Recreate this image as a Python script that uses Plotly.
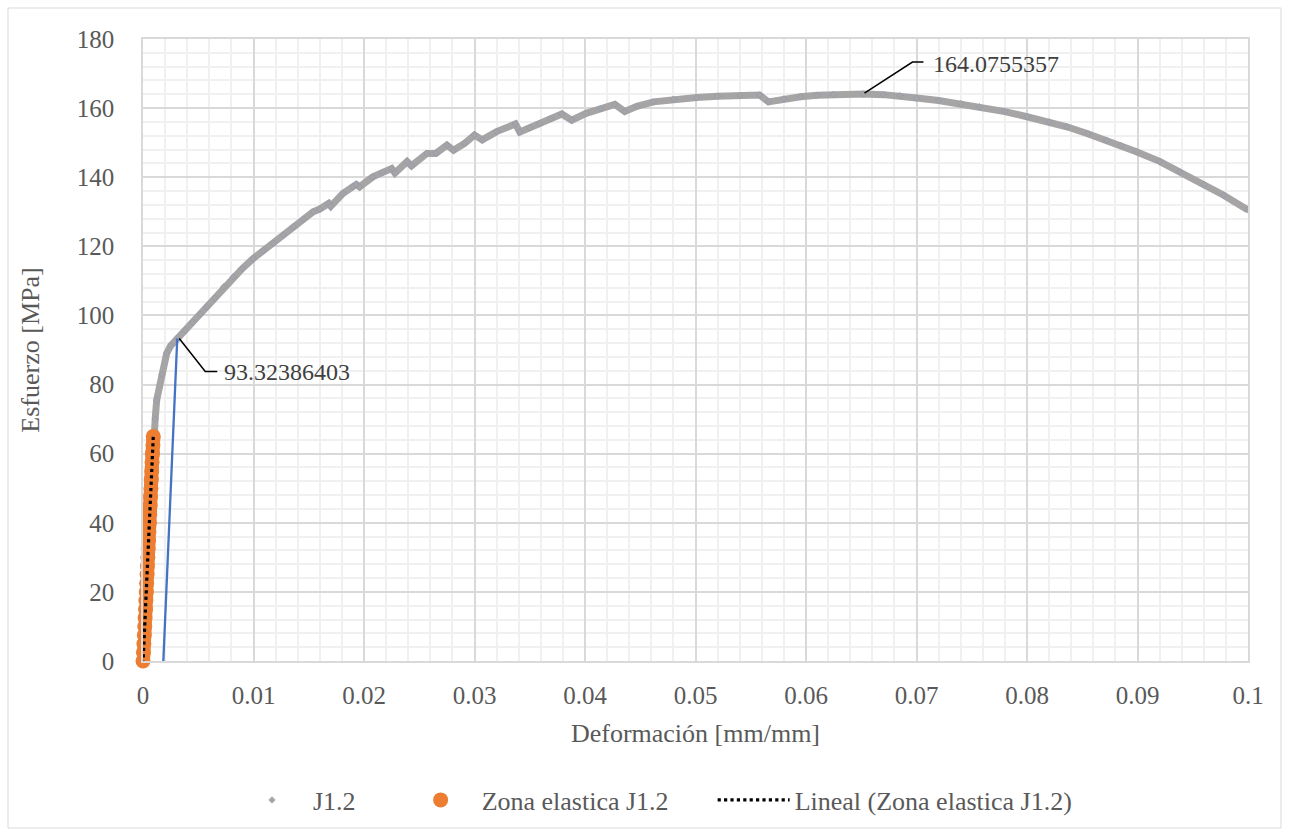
import numpy as np
import plotly.graph_objects as go

# ---- Data ----
strain_j12 = [0, 0.0005, 0.0009, 0.0011, 0.00124, 0.0017, 0.00214, 0.0025, 0.0031, 0.0038,
              0.0045, 0.0052, 0.00576, 0.0065, 0.0073, 0.00817, 0.009, 0.00998, 0.0109, 0.0118,
              0.0127, 0.0136, 0.0145, 0.0154, 0.0160, 0.0168, 0.0170, 0.0181, 0.0190, 0.0193,
              0.0196, 0.0208, 0.0217, 0.0225, 0.0228, 0.0239, 0.0243, 0.0257, 0.0265, 0.0275,
              0.0281, 0.0291, 0.0300, 0.0307, 0.0320, 0.0337, 0.0341, 0.0350, 0.0359, 0.0369,
              0.0379, 0.0388, 0.0401, 0.0414, 0.0427, 0.0436, 0.0447, 0.0462, 0.0480, 0.0501,
              0.0520, 0.0540, 0.0558, 0.0566, 0.0580, 0.0595, 0.0610, 0.0625, 0.0652, 0.0670,
              0.0685, 0.0700, 0.0720, 0.0740, 0.0757, 0.0780, 0.0800, 0.0820, 0.0836, 0.0855,
              0.0872, 0.0885, 0.0899, 0.0920, 0.0938, 0.0960, 0.0978, 0.1000]
stress_j12 = [0, 36, 63, 70, 75.5, 83, 89.0, 91.2, 93.3, 95.6,
              98.0, 100.4, 102.5, 105.0, 108.3, 111.2, 113.6, 116.5, 118.8, 120.9,
              123.3, 125.7, 127.9, 130.0, 130.8, 132.4, 131.6, 135.3, 137.3, 137.9,
              137.2, 140.1, 141.4, 142.5, 141.2, 144.5, 143.3, 146.9, 146.9, 149.3,
              147.8, 149.8, 152.2, 150.8, 153.2, 155.4, 153.1, 154.3, 155.5, 156.9,
              158.3, 156.5, 158.5, 159.8, 161.1, 159.0, 160.5, 161.8, 162.6, 163.1,
              163.4, 163.6, 163.8, 161.8, 162.7, 163.3, 163.7, 164.0, 164.0755357, 163.9,
              163.6, 162.9, 162.2, 161.3, 160.4, 159.0, 157.5, 156.0, 154.6, 152.6,
              150.7, 149.2, 147.4, 144.6, 141.6, 137.9, 134.8, 130.5]

strain_elastic = [0, 0.00004, 0.00008, 0.00012, 0.00016, 0.00019, 0.00023, 0.00026, 0.0003,
                  0.00033, 0.00037, 0.0004, 0.00044, 0.00047, 0.00051, 0.00054, 0.00058,
                  0.00061, 0.00065, 0.00068, 0.00072, 0.00075, 0.00079, 0.00082, 0.00086,
                  0.0009, 0.00093]
stress_elastic = [0, 2.5, 5, 7.5, 10, 12.5, 15, 17.5, 20,
                  22.5, 25, 27.5, 30, 32.5, 35, 37.5, 40,
                  42.5, 45, 47.5, 50, 52.5, 55, 57.5, 60,
                  62.5, 65]

offset_strain = [0.00184, 0.0031]
offset_stress = [0, 93.32386403]

yield_point = (0.0031, 93.32386403)
max_point = (0.0652, 164.0755357)

legend_names = ["J1.2", "Zona elastica J1.2", "Lineal (Zona elastica J1.2)"]

GRAY = "#A6A4A5"
ORANGE = "#ED7D31"
BLUE = "#4472C4"
TXT = "#595959"
FONT = "Liberation Serif, Times New Roman, serif"
PAD = "\u00a0" * 6

# linear trendline of elastic zone
m, b = np.polyfit(strain_elastic, stress_elastic, 1)
tx = np.array([min(strain_elastic), max(strain_elastic)])
ty = m * tx + b

fig = go.Figure()
fig.add_trace(go.Scatter(x=strain_j12, y=stress_j12, mode="lines",
                         line=dict(color=GRAY, width=7), showlegend=False, hoverinfo="skip"))
fig.add_trace(go.Scatter(x=strain_j12, y=stress_j12, mode="markers", name=legend_names[0] + PAD,
                         marker=dict(symbol="diamond", size=5, color=GRAY,
                                     line=dict(width=0.5, color="#8497B0"))))
fig.add_trace(go.Scatter(x=offset_strain, y=offset_stress, mode="lines",
                         line=dict(color=BLUE, width=2.3), showlegend=False))
fig.add_trace(go.Scatter(x=strain_elastic, y=stress_elastic, mode="lines",
                         line=dict(color=ORANGE, width=14, simplify=False),
                         showlegend=False))
fig.add_trace(go.Scatter(x=strain_elastic, y=stress_elastic, mode="markers",
                         name=legend_names[1] + PAD, cliponaxis=False,
                         marker=dict(symbol="circle", size=15, color=ORANGE)))
fig.add_trace(go.Scatter(x=tx, y=ty, mode="lines", name=legend_names[2],
                         line=dict(color="black", width=3.2, dash="dot")))

# leader lines + labels
fig.add_shape(type="path", xref="x", yref="y", xsizemode="pixel", ysizemode="pixel",
              xanchor=max_point[0], yanchor=max_point[1],
              path="M1,1 L49,32 L60,32", line=dict(color="black", width=1.5))
fig.add_annotation(x=max_point[0], y=max_point[1], text="164.0755357", showarrow=False,
                   xanchor="left", yanchor="middle", xshift=68, yshift=30,
                   font=dict(family=FONT, size=24, color="#404040"))
fig.add_shape(type="path", xref="x", yref="y", xsizemode="pixel", ysizemode="pixel",
              xanchor=yield_point[0], yanchor=yield_point[1],
              path="M2,0 L28,-33 L40,-33", line=dict(color="black", width=1.5))
fig.add_annotation(x=yield_point[0], y=yield_point[1], text="93.32386403", showarrow=False,
                   xanchor="left", yanchor="middle", xshift=45, yshift=-33,
                   font=dict(family=FONT, size=24, color="#404040"))

# outer chart border
L, R, T, B = 143, 41, 39, 175
pw, ph = 1289 - L - R, 836 - T - B
fig.add_shape(type="rect", xref="paper", yref="paper",
              x0=(8 - L) / pw, x1=(1281 - L) / pw, y0=(661 - 828) / ph, y1=(661 - 8) / ph,
              line=dict(color="#D9D9D9", width=1), layer="below")

axis_common = dict(showgrid=True, gridcolor="#D9D9D9", gridwidth=1.6,
                   zeroline=False, showline=True, linecolor="#D9D9D9", linewidth=1.6,
                   mirror=True, ticks="", tickfont=dict(family=FONT, size=25, color=TXT),
                   title_font=dict(family=FONT, size=26, color=TXT))

fig.update_xaxes(range=[0, 0.1], dtick=0.01, tick0=0,
                 minor=dict(dtick=0.002, showgrid=True, gridcolor="#F0F0F0", gridwidth=2),
                 title_text="Deformación [mm/mm]", title_standoff=16,
                 ticklabelstandoff=11, **axis_common)
fig.update_yaxes(range=[0, 180], dtick=20, tick0=0,
                 minor=dict(dtick=4, showgrid=True, gridcolor="#F0F0F0", gridwidth=2),
                 title_text="Esfuerzo [MPa]", title_standoff=30,
                 ticklabelstandoff=22, **axis_common)

fig.update_layout(
    width=1289, height=836,
    margin=dict(l=L, r=R, t=T, b=B, autoexpand=False),
    paper_bgcolor="white", plot_bgcolor="white",
    font=dict(family=FONT, color=TXT),
    legend=dict(orientation="h", x=(231 - L) / pw, xanchor="left",
                y=(661 - 800) / ph, yanchor="middle",
                font=dict(family=FONT, size=26, color=TXT),
                itemwidth=72, bgcolor="rgba(0,0,0,0)"),
    showlegend=True,
)

fig.write_html("out.html")
